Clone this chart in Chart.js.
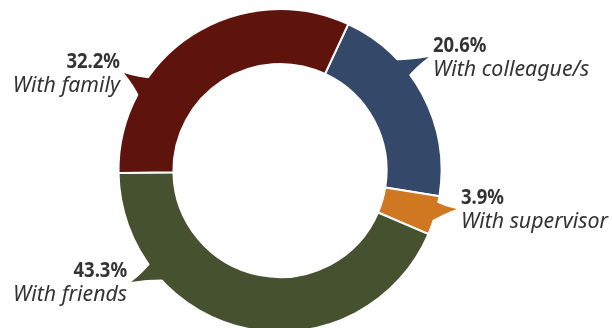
<!DOCTYPE html>
<html>
<head>
<meta charset="utf-8">
<script src="https://cdn.jsdelivr.net/npm/chart.js@4/dist/chart.umd.min.js"></script>
<style>
html, body { margin: 0; padding: 0; background: #fff; overflow: hidden; }
#wrap { width: 612px; height: 328px; overflow: hidden; }
</style>
</head>
<body>
<div id="wrap"><canvas id="chart" width="612" height="340"></canvas></div>
<script>
var categories = ['With colleague/s', 'With supervisor', 'With friends', 'With family'];
var shares = [20.6, 3.9, 43.3, 32.2];
var colours = ['#34496a', '#d07721', '#46522f', '#5e140c'];

// callout wedge: base as fraction of the slice, label anchor in units of the outer radius
var callouts = [
    { from: 0.27, to: 0.39, lx: 0.947, ly: -0.734, align: 'left' },
    { from: 0.13, to: 0.77, lx: 1.12, ly: 0.207, align: 'left' },
    { from: 0.72, to: 0.78, lx: -0.947, ly: 0.659, align: 'right' },
    { from: 0.24, to: 0.32, lx: -0.991, ly: -0.635, align: 'right' }
];

var labelFont = '"Noto Sans", sans-serif';
var textColour = '#333333';

function pointAt(cx, cy, r, a) {
    return { x: cx + r * Math.cos(a), y: cy + r * Math.sin(a) };
}

function towards(p, q, k) {
    return { x: p.x + (q.x - p.x) * k, y: p.y + (q.y - p.y) * k };
}

// text squeezed horizontally around its anchor
function squeezedText(ctx, text, x, y, font, sx) {
    ctx.save();
    ctx.translate(x, y);
    ctx.scale(sx, 1);
    ctx.font = font;
    ctx.fillText(text, 0, 0);
    ctx.restore();
}

var calloutPlugin = {
    id: 'callouts',
    afterDatasetsDraw: function (chart) {
        var ctx = chart.ctx;
        var meta = chart.getDatasetMeta(0);
        meta.data.forEach(function (arc, i) {
            var c = callouts[i];
            var p = arc.getProps(['x', 'y', 'startAngle', 'endAngle', 'outerRadius'], true);
            var r = p.outerRadius;
            var span = p.endAngle - p.startAngle;
            var b1 = pointAt(p.x, p.y, r - 6, p.startAngle + c.from * span);
            var b2 = pointAt(p.x, p.y, r - 6, p.startAngle + c.to * span);
            var lx = p.x + c.lx * r;
            var ly = p.y + c.ly * r;
            var dir = c.align == 'left' ? -1 : 1;
            var tip = { x: lx + dir * 4, y: ly + 5 };
            var axisMid = towards(towards(b1, b2, 0.5), tip, 0.5);
            var c1 = towards(towards(b1, tip, 0.5), axisMid, 0.35);
            var c2 = towards(towards(b2, tip, 0.5), axisMid, 0.35);

            ctx.save();
            ctx.fillStyle = colours[i];
            ctx.beginPath();
            ctx.moveTo(b1.x, b1.y);
            ctx.quadraticCurveTo(c1.x, c1.y, tip.x, tip.y);
            ctx.quadraticCurveTo(c2.x, c2.y, b2.x, b2.y);
            ctx.closePath();
            ctx.fill();

            ctx.fillStyle = textColour;
            ctx.textAlign = c.align;
            ctx.textBaseline = 'alphabetic';
            squeezedText(ctx, shares[i].toFixed(1) + '%', lx, ly, 'bold 22px ' + labelFont, 0.84);
            squeezedText(ctx, categories[i], lx, ly + 24, 'italic 22px ' + labelFont, 0.97);
            ctx.restore();
        });
    }
};

new Chart(document.getElementById('chart'), {
    type: 'doughnut',
    data: {
        labels: categories,
        datasets: [{
            data: shares,
            backgroundColor: colours,
            borderColor: '#ffffff',
            borderWidth: 2
        }]
    },
    options: {
        responsive: false,
        animation: false,
        rotation: 25,
        cutout: '66%',
        layout: { padding: { top: 8, bottom: 7, left: 0, right: 52 } },
        plugins: {
            legend: { display: false },
            tooltip: { enabled: false }
        }
    },
    plugins: [calloutPlugin]
});
</script>
</body>
</html>
